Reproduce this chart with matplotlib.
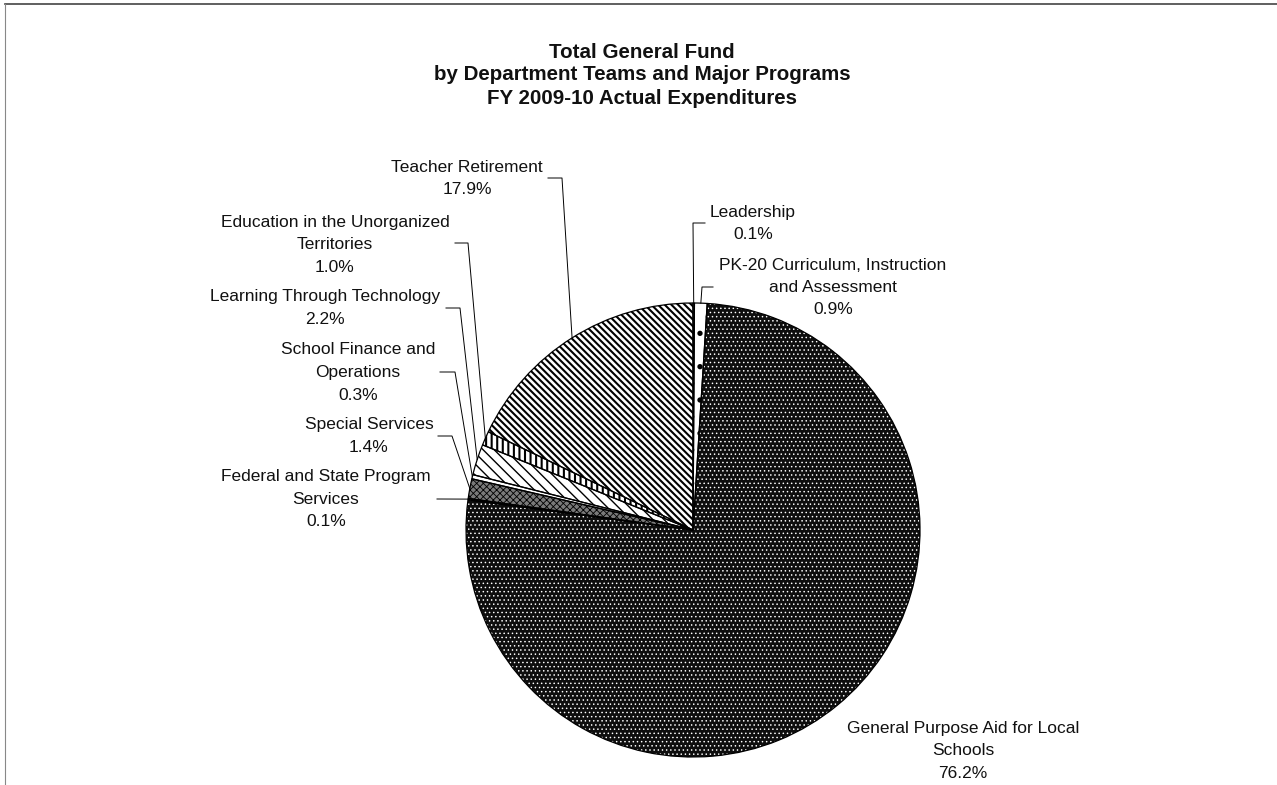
import matplotlib
matplotlib.use("Agg")
import matplotlib.pyplot as plt
from matplotlib.lines import Line2D
import numpy as np

plt.rcParams['font.family'] = ['Liberation Sans', 'DejaVu Sans']

W, H = 1277, 785

# data, clockwise from 12 o'clock
programs = ["Leadership",
            "PK-20 Curriculum, Instruction\nand Assessment",
            "General Purpose Aid for Local\nSchools",
            "Federal and State Program\nServices",
            "Special Services",
            "School Finance and\nOperations",
            "Learning Through Technology",
            "Education in the Unorganized\nTerritories",
            "Teacher Retirement"]
shares = [0.1, 0.9, 76.2, 0.1, 1.4, 0.3, 2.2, 1.0, 17.9]

title_lines = ["Total General Fund",
               "by Department Teams and Major Programs",
               "FY 2009-10 Actual Expenditures"]

# styling per wedge: face, hatch, hatch colour, hatch width
faces = ['white', 'white', '#0e0e0e', '#1a1a1a', '#7a7a7a', 'white', 'white', 'white', 'white']
hatches = [None, '.', '....', '....', 'xxxxx', None, '\\\\\\', '|||', '\\\\\\\\\\']
hcolors = ['black', 'black', 'white', 'white', 'black', 'black', 'black', 'black', 'black']
hwidths = [1.0, 1.4, 0.55, 0.55, 0.6, 1.0, 1.0, 1.5, 1.5]

# label layout in pixels: centre x, first-line y
label_pos = [(753, 212), (833, 265), (963, 728), (326, 477), (369, 425),
             (358, 350), (325, 297), (335, 222), (467, 167)]
# leader line: elbow start/end (pixels), None = no leader
leaders = [((705, 223), (693, 223)), ((713, 287), (702, 287)), None,
           ((437, 499), (437, 499)), ((438, 436), (452, 436)),
           ((440, 372), (455, 372)), ((446, 308), (460, 308)),
           ((455, 243), (468, 243)), ((548, 178), (562, 178))]

cx, cy, r = 693, 530, 227

fig = plt.figure(figsize=(W / 100, H / 100), dpi=100)
ax = fig.add_axes([0, 0, 1, 1])

wedges, _ = ax.pie(shares, startangle=90, counterclock=False,
                   center=(cx, H - cy), radius=r,
                   wedgeprops=dict(linewidth=0))
for w, fc, ht, hc, hw in zip(wedges, faces, hatches, hcolors, hwidths):
    w.set_facecolor(fc)
    w.set_edgecolor(hc)
    w.set_linewidth(0)
    if ht:
        w.set_hatch(ht)
    if hasattr(w, 'set_hatch_linewidth'):
        w.set_hatch_linewidth(hw)

# black outlines on top
outl, _ = ax.pie(shares, startangle=90, counterclock=False,
                 center=(cx, H - cy), radius=r,
                 wedgeprops=dict(fill=False, edgecolor='black', linewidth=0.9))

fs = 12.5
step = 22.5
for w, name, v, pos, ld in zip(wedges, programs, shares, label_pos, leaders):
    lines = name.split("\n") + [f"{v:.1f}%"]
    x0, y0 = pos
    for i, t in enumerate(lines):
        ax.text(x0, H - (y0 + i * step), t, ha='center', va='center',
                fontsize=fs, color='#111111')
    if ld is None:
        continue
    mid = np.deg2rad((w.theta1 + w.theta2) / 2)
    px = cx + r * np.cos(mid)
    py = cy - r * np.sin(mid)
    (xa, ya), (xb, yb) = ld
    ax.plot([xa, xb, px], [H - ya, H - yb, H - py], color='black', lw=0.7)

for i, t in enumerate(title_lines):
    ax.text(642, H - (52 + i * 23), t, ha='center', va='center',
            fontsize=14.8, fontweight='bold', color='#111111')

# scanned page border
fig.add_artist(Line2D([5 / W, 1], [1 - 4 / H, 1 - 4 / H], color='#444444', lw=1.2))
fig.add_artist(Line2D([5 / W, 5 / W], [0, 1 - 4 / H], color='#888888', lw=0.8))

ax.set_xlim(0, W)
ax.set_ylim(0, H)
ax.set_aspect('equal')
ax.axis('off')

fig.savefig("out.png", dpi=100)
